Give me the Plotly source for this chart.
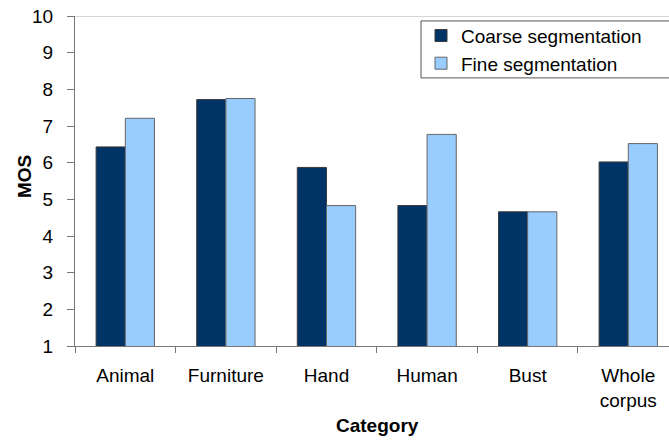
import plotly.graph_objects as go

categories = ["Animal", "Furniture", "Hand", "Human", "Bust", "Whole<br>corpus"]
coarse = [6.43, 7.72, 5.87, 4.83, 4.66, 6.02]
fine = [7.21, 7.75, 4.83, 6.77, 4.66, 6.52]
y_ticks = [1, 2, 3, 4, 5, 6, 7, 8, 9, 10]

FONT = "Liberation Sans, Arial, sans-serif"

fig = go.Figure()
fig.add_trace(go.Bar(x=categories, y=coarse, name="Coarse segmentation",
                     marker=dict(color="#003366", line=dict(color="#3a3a3a", width=1))))
fig.add_trace(go.Bar(x=categories, y=fine, name="Fine segmentation",
                     marker=dict(color="#99ccff", line=dict(color="#666666", width=1))))

fig.update_layout(
    width=669, height=441,
    margin=dict(l=75, r=0, t=16, b=95),
    paper_bgcolor="white", plot_bgcolor="white",
    barmode="group", bargap=0.42, bargroupgap=0,
    font=dict(family=FONT, size=19, color="black"),
    legend=dict(x=0.5825, y=0.998, xanchor="left", yanchor="top",
                borderwidth=0, bgcolor="rgba(0,0,0,0)",
                font=dict(size=19), itemwidth=30, tracegroupgap=0),
    xaxis=dict(range=[-0.5, 5.405], showline=True, linecolor="#777777", linewidth=1,
               ticks="outside", tickson="boundaries", ticklen=6, tickcolor="#777777",
               ticklabelstandoff=12, automargin=False),
    yaxis=dict(range=[1, 10], tickvals=y_ticks, showgrid=False, showline=True,
               linecolor="#777777", linewidth=1, ticks="outside", ticklen=7,
               tickcolor="#777777", ticklabelstandoff=10, zeroline=False,
               automargin=False),
    annotations=[
        dict(text="<b>Category</b>", xref="paper", yref="paper", x=0.509, y=-0.242,
             xanchor="center", yanchor="middle", showarrow=False, font=dict(size=19)),
        dict(text="<b>MOS</b>", xref="paper", yref="paper", x=-0.0859, y=0.515,
             xanchor="center", yanchor="middle", showarrow=False, textangle=-90,
             font=dict(size=19)),
    ],
    shapes=[
        dict(type="line", xref="paper", yref="y", x0=0, x1=1, y0=10, y1=10,
             line=dict(color="#c8c8c8", width=1.5)),
        dict(type="rect", xref="paper", yref="paper", x0=0.5825, x1=1.05,
             y0=0.8124, y1=0.985, fillcolor="white",
             line=dict(color="#555555", width=1), layer="above"),
    ],
)

fig.write_html("out.html", post_script="document.body.style.margin='0';",
               config={"displayModeBar": False})
